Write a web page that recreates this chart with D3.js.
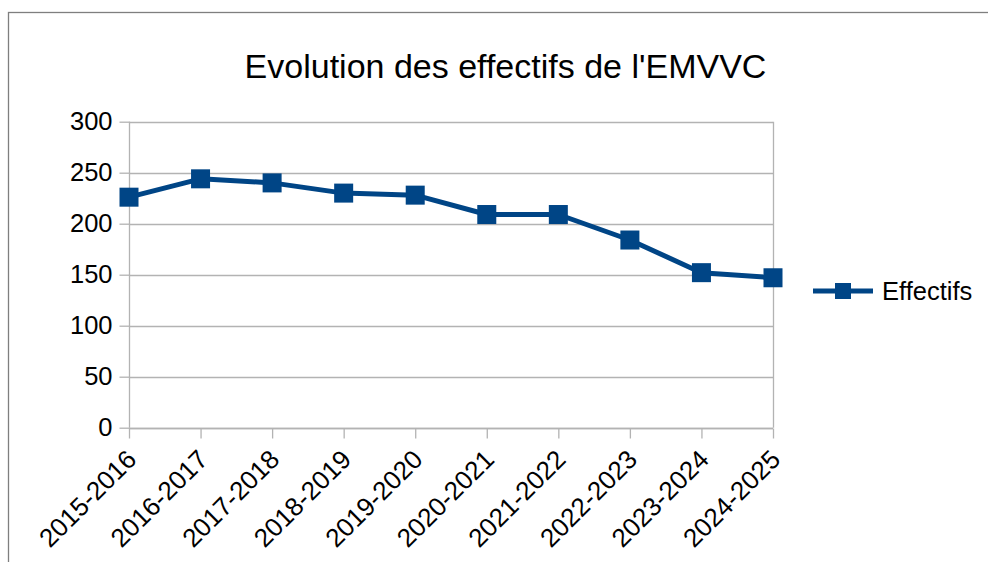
<!DOCTYPE html>
<html>
<head>
<meta charset="utf-8">
<script src="https://cdn.jsdelivr.net/npm/d3@7"></script>
<style>
  body { margin: 0; background: #fff; }
  svg { display: block; font-family: "Liberation Sans", Arial, sans-serif; }
</style>
</head>
<body>
<svg width="988" height="562"></svg>
<script>
// data
const years = ['2015-2016', '2016-2017', '2017-2018', '2018-2019', '2019-2020',
  '2020-2021', '2021-2022', '2022-2023', '2023-2024', '2024-2025']
const effectifs = [226, 244, 240, 230, 228, 209, 209, 184, 152, 147]
const yTicks = [0, 50, 100, 150, 200, 250, 300]

const blue = '#004586'
const grid = '#b3b3b3'
const fontSize = 25.5

const svg = d3.select('svg')

// outer frame (runs off the right and bottom of the page)
svg.append('rect')
  .attr('x', 8.5).attr('y', 12.5)
  .attr('width', 1100).attr('height', 700)
  .attr('fill', 'none')
  .attr('stroke', '#7f7f7f')
  .attr('stroke-width', 1.3)

svg.append('text')
  .attr('x', 505.5).attr('y', 78)
  .attr('text-anchor', 'middle')
  .attr('font-size', 34)
  .attr('fill', '#000')
  .text("Evolution des effectifs de l'EMVVC")

const x = d3.scalePoint()
  .domain(years)
  .range([129, 773])

const y = d3.scaleLinear()
  .domain([0, 300])
  .range([427.7, 121.7])

// horizontal grid
svg.append('g')
  .selectAll('line')
  .data(yTicks)
  .enter()
  .append('line')
  .attr('x1', 129).attr('x2', 773)
  .attr('y1', d => Math.round(y(d)) + 0.5)
  .attr('y2', d => Math.round(y(d)) + 0.5)
  .attr('stroke', grid)
  .attr('stroke-width', 1.3)

// right edge of plot area
svg.append('line')
  .attr('x1', 773.5).attr('x2', 773.5)
  .attr('y1', y(300)).attr('y2', y(0))
  .attr('stroke', grid)
  .attr('stroke-width', 1.3)

// y axis
const yAxis = svg.append('g')
  .attr('transform', 'translate(129.5,0)')
  .call(d3.axisLeft(y).tickValues(yTicks).tickSize(10).tickPadding(7))
yAxis.selectAll('line, path').attr('stroke', grid).attr('stroke-width', 1.3)
yAxis.select('.domain').attr('d', `M0,${y(300)}V${y(0)}`)
yAxis.selectAll('text')
  .attr('font-size', fontSize)
  .attr('font-family', '"Liberation Sans", Arial, sans-serif')
  .attr('fill', '#000')

// x axis
const xAxis = svg.append('g')
  .attr('transform', `translate(0,${Math.round(y(0)) + 0.5})`)
  .call(d3.axisBottom(x).tickSize(10).tickSizeOuter(0))
xAxis.selectAll('line, path').attr('stroke', grid).attr('stroke-width', 1.3)
xAxis.select('.domain').attr('d', 'M129,0H773')
xAxis.selectAll('text')
  .attr('font-size', 26)
  .attr('font-family', '"Liberation Sans", Arial, sans-serif')
  .attr('fill', '#000')
  .attr('text-anchor', 'end')
  .attr('dy', '0.35em')
  .attr('transform', 'translate(2,26) rotate(-45)')
  .attr('y', 0)

// series line
const line = d3.line()
  .x((d, i) => x(years[i]))
  .y(d => y(d))

svg.append('path')
  .datum(effectifs)
  .attr('d', line)
  .attr('fill', 'none')
  .attr('stroke', blue)
  .attr('stroke-width', 5)
  .attr('stroke-linejoin', 'round')

const size = 19
svg.selectAll('.marker')
  .data(effectifs)
  .enter()
  .append('rect')
  .classed('marker', true)
  .attr('x', (d, i) => x(years[i]) - size / 2)
  .attr('y', d => y(d) - size / 2)
  .attr('width', size)
  .attr('height', size)
  .attr('fill', blue)

// legend
const legend = svg.append('g')
legend.append('line')
  .attr('x1', 813).attr('x2', 873)
  .attr('y1', 291).attr('y2', 291)
  .attr('stroke', blue)
  .attr('stroke-width', 5)
legend.append('rect')
  .attr('x', 843 - 8).attr('y', 291 - 8)
  .attr('width', 16).attr('height', 16)
  .attr('fill', blue)
legend.append('text')
  .attr('x', 882).attr('y', 300)
  .attr('font-size', fontSize)
  .attr('fill', '#000')
  .text('Effectifs')
</script>
</body>
</html>
